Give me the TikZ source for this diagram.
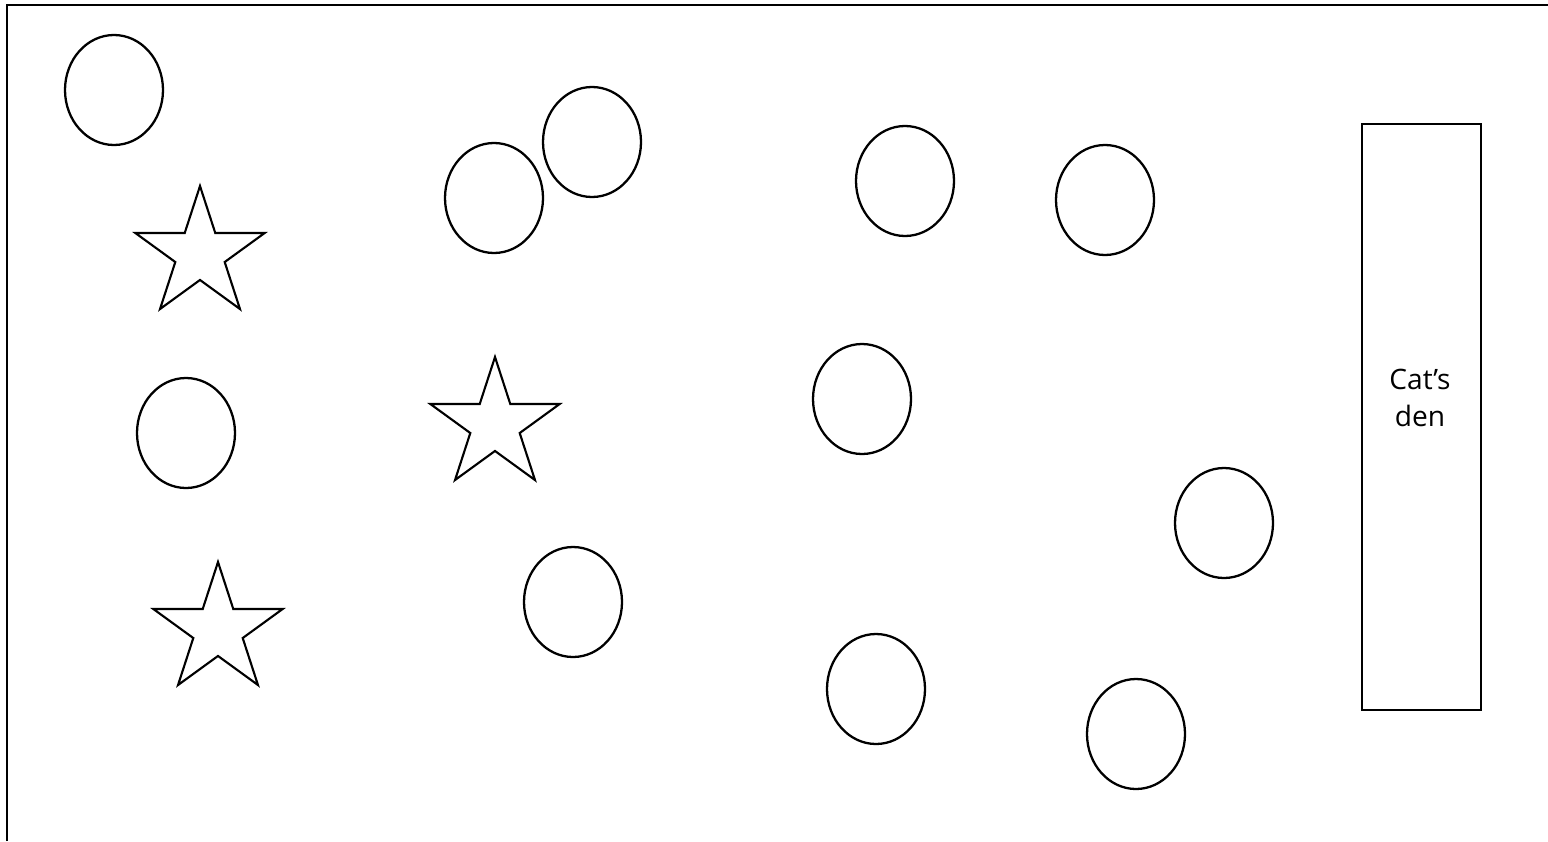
\documentclass[tikz,border=0pt]{standalone}
\usepackage{fontspec}
\setmainfont{Open Sans}
\usetikzlibrary{shapes.geometric, positioning}

\tikzset{
  spot/.style={ellipse, draw, line width=1.3pt, inner sep=0pt,
    minimum width=1.96cm, minimum height=2.2cm},
  prize/.style={star, star points=5, star point ratio=2.618, draw,
    line width=1.2pt, inner sep=0pt, minimum size=2.72cm},
  denbox/.style={rectangle, draw, line width=1.3pt, inner sep=0pt,
    minimum width=2.38cm, minimum height=11.72cm}
}

\begin{document}
\begin{tikzpicture}[x=0.2mm, y=-0.2mm]
    \useasboundingbox (0,0) rectangle (1548,841);
    % frame (top and left edges)
    \coordinate (fbot) at (7,841);
    \coordinate (fcorner) at (7,5);
    \coordinate (fright) at (1548,5);
    \draw[line width=1.6pt] (fbot) -- (fcorner) -- (fright);
    % spots
    \foreach \n/\x/\y in {1/114/90, 2/186/433, 3/494/198, 4/592/142,
        5/573/602, 6/905/181, 7/862/399, 8/876/689, 9/1105/200,
        10/1224/523, 11/1136/734}
      \node[spot] (s\n) at (\x,\y) {};
    % stars
    \foreach \n/\x/\y in {1/200/254, 2/495/425, 3/218/630}
      \node[prize] (p\n) at (\x,\y) {};
    % den
    \node[denbox] (den) at (1421.5,417) {};
    \node[align=center, font=\fontsize{16}{21}\selectfont] (denlabel)
      at (1420,398) {Cat’s\\den};
  \end{tikzpicture}
\end{document}
